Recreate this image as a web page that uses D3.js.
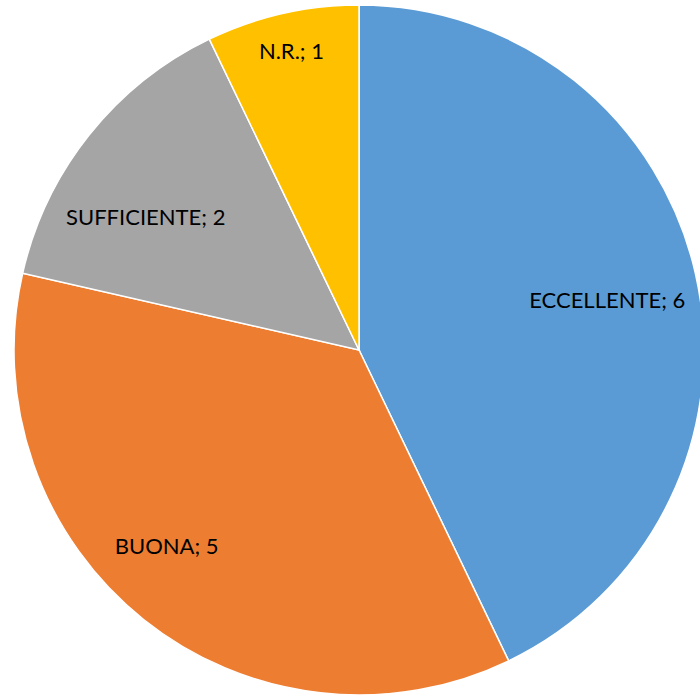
<!DOCTYPE html>
<html lang="it">
<head>
<meta charset="UTF-8">
<title>Pie chart</title>
<script src="https://d3js.org/d3.v7.min.js"></script>
<style>
  body { margin: 0; background: #fff; }
  svg { display: block; }
  .lbl { font-family: Lato, "Open Sans", sans-serif; font-size: 22px; fill: #000; }
</style>
</head>
<body>
<script>
  // chart data
  const categories = ["ECCELLENTE", "BUONA", "SUFFICIENTE", "N.R."];
  const values = [6, 5, 2, 1];
  const colors = ["#5B9BD5", "#ED7D31", "#A5A5A5", "#FFC000"];

  const w = 700, h = 697;
  const cx = 359, cy = 350, r = 345;

  const svg = d3.select("body").append("svg")
    .attr("width", w)
    .attr("height", h);

  const g = svg.append("g")
    .attr("transform", "translate(" + cx + "," + cy + ")");

  const pie = d3.pie().sort(null).value((d) => d.v);
  const slices = pie(categories.map((c, i) => ({ c: c, v: values[i] })));

  const arc = d3.arc().innerRadius(0).outerRadius(r);
  const labelArc = d3.arc().innerRadius(r * 0.75).outerRadius(r * 0.75);

  g.selectAll("path")
    .data(slices)
    .enter()
    .append("path")
    .attr("d", arc)
    .attr("fill", (d, i) => colors[i])
    .attr("stroke", "#fff")
    .attr("stroke-width", 1.5);

  // best-fit style nudges, like excel puts them
  const nudge = [[-4, 7], [-31, -7], [-11, 28], [-10, -47]];

  g.selectAll("text")
    .data(slices)
    .enter()
    .append("text")
    .attr("class", "lbl")
    .attr("x", (d, i) => labelArc.centroid(d)[0] + nudge[i][0])
    .attr("y", (d, i) => labelArc.centroid(d)[1] + nudge[i][1])
    .attr("text-anchor", "middle")
    .attr("dominant-baseline", "central")
    .text((d) => d.data.c + "; " + d.data.v);
</script>
</body>
</html>
